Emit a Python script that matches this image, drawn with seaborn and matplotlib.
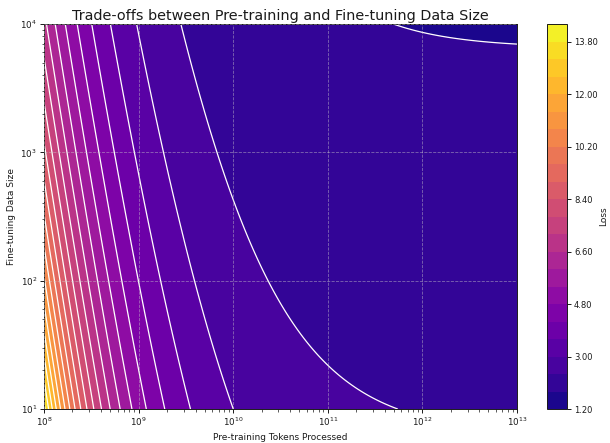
import numpy as np
import matplotlib
matplotlib.use("Agg")
import matplotlib.pyplot as plt
import seaborn as sns
from matplotlib.ticker import FormatStrFormatter

# Scaling-law parameters of the loss surface
irreducible_loss = 1.232
finetune_coef = 1.416
finetune_exp = 0.104
pretrain_coef = 10 ** 6.188
pretrain_exp = 0.625
interaction_exp = 0.122

# Axis ranges (tokens processed in pre-training, fine-tuning examples)
token_range = [1e8, 1e13]
finetune_range = [1e1, 1e4]

# Contour levels and colorbar ticks
loss_levels = np.round(np.arange(1.2, 14.41, 0.6), 2)
cbar_ticks = [1.20, 3.00, 4.80, 6.60, 8.40, 10.20, 12.00, 13.80]

title = "Trade-offs between Pre-training and Fine-tuning Data Size"
xlabel = "Pre-training Tokens Processed"
ylabel = "Fine-tuning Data Size"
cbar_label = "Loss"

sns.set_style("ticks")
plt.rcParams["font.family"] = ["DejaVu Sans"]
plt.rcParams["text.color"] = "0.1"
plt.rcParams["axes.labelcolor"] = "0.1"
plt.rcParams["axes.edgecolor"] = "0.1"
plt.rcParams["xtick.color"] = "0.1"
plt.rcParams["ytick.color"] = "0.1"

tokens = np.logspace(np.log10(token_range[0]), np.log10(token_range[1]), 500)
finetune = np.logspace(np.log10(finetune_range[0]), np.log10(finetune_range[1]), 500)
T, F = np.meshgrid(tokens, finetune)
loss = (irreducible_loss
        + finetune_coef * F ** -finetune_exp
        + pretrain_coef * T ** -pretrain_exp * F ** -interaction_exp)

fig = plt.figure(figsize=(6.1, 4.43), dpi=100)
ax = fig.add_axes([0.0721, 0.0767, 0.7754, 0.8691])
cax = fig.add_axes([0.8967, 0.0767, 0.0328, 0.8691])

cmap = sns.color_palette("plasma", as_cmap=True)
cf = ax.contourf(T, F, loss, levels=loss_levels, cmap=cmap)
ax.contour(T, F, loss, levels=loss_levels, colors="white", linewidths=0.9)

ax.set_xscale("log")
ax.set_yscale("log")
ax.set_xlim(token_range)
ax.set_ylim(finetune_range)
ax.set_axisbelow(False)
ax.grid(True, which="major", linestyle="--", linewidth=0.6, alpha=0.5)
ax.tick_params(axis="both", which="major", labelsize=6.3, length=3, width=0.7, pad=2)
ax.tick_params(axis="both", which="minor", length=1.8, width=0.5)
for s in ax.spines.values():
    s.set_linewidth(0.7)

ax.set_title(title, fontsize=10.4, pad=3)
ax.set_xlabel(xlabel, fontsize=6.5, labelpad=3)
ax.set_ylabel(ylabel, fontsize=6.5, labelpad=3)

cbar = fig.colorbar(cf, cax=cax, ticks=cbar_ticks)
cbar.ax.yaxis.set_major_formatter(FormatStrFormatter("%.2f"))
cbar.ax.tick_params(labelsize=6.0, length=3, width=0.7, pad=2)
cbar.outline.set_linewidth(0.7)
cbar.set_label(cbar_label, fontsize=6.5, labelpad=1)

fig.savefig("out.png", dpi=100)
